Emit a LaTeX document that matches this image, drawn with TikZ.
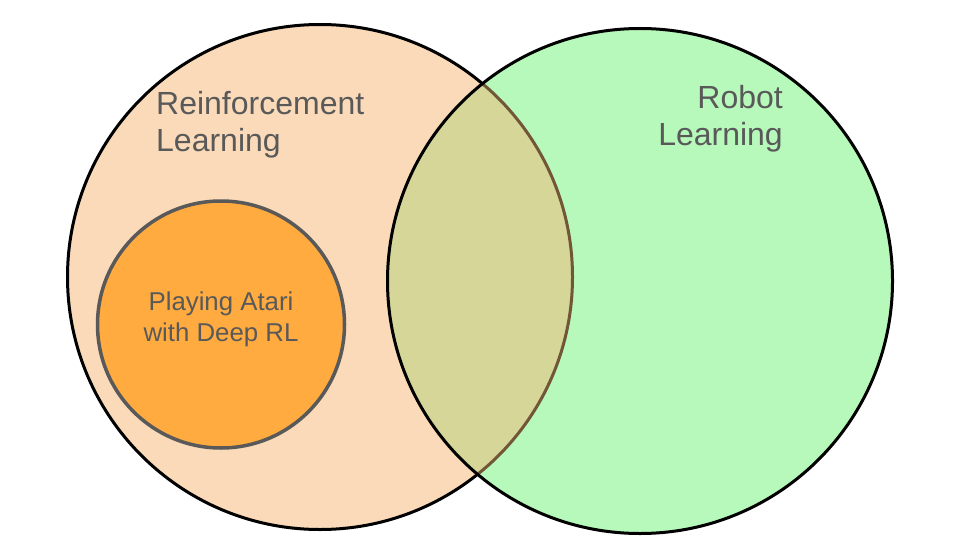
\documentclass[tikz,border=0pt]{standalone}
\usepackage{fontspec}
\setmainfont{Liberation Sans}
\definecolor{rlfill}{RGB}{250,218,184}
\definecolor{robfill}{RGB}{183,249,186}
\definecolor{overlapfill}{RGB}{213,214,151}
\definecolor{brownline}{RGB}{114,86,56}
\definecolor{atarifill}{RGB}{255,171,64}
\definecolor{greytext}{RGB}{89,89,89}
\tikzset{
  bigset/.style={circle, draw=black, line width=3pt, minimum size=505pt, inner sep=0pt},
  smallset/.style={circle, draw=greytext, fill=atarifill, line width=3.5pt, minimum size=247pt, inner sep=0pt},
  biglabel/.style={text=greytext, inner sep=0pt, font=\fontsize{32}{37}\selectfont},
  smalllabel/.style={text=greytext, inner sep=0pt, align=center, font=\fontsize{25.8}{31.7}\selectfont}
}
\begin{document}
\begin{tikzpicture}[x=1pt,y=-1pt]
\useasboundingbox (0,0) rectangle (960,540);
% left set
\node[bigset, fill=rlfill] (rl) at (320,277) {};
% right set fill
\fill[robfill] (640,281) circle (252.5);
% overlap
\begin{scope}
  \clip (320,277) circle (252.5);
  \fill[overlapfill] (640,281) circle (252.5);
\end{scope}
% left border inside right set (seen through)
\begin{scope}
  \clip (640,281) circle (252.5);
  \draw[brownline, line width=3pt] (320,277) circle (252.5);
\end{scope}
% right set outline
\node[bigset] (robot) at (640,281) {};
% inner set
\node[smallset] (atari) at (221,324.5) {};
\node[smalllabel, anchor=base] (atarilabel) at (221,341.7) {Playing Atari\\with Deep RL};
\node[biglabel, align=left, anchor=base west] (rllabel) at (156,152) {Reinforcement\\Learning};
\node[biglabel, align=right, anchor=base east] (roblabel) at (783,146) {Robot\\Learning};
\end{tikzpicture}
\end{document}
